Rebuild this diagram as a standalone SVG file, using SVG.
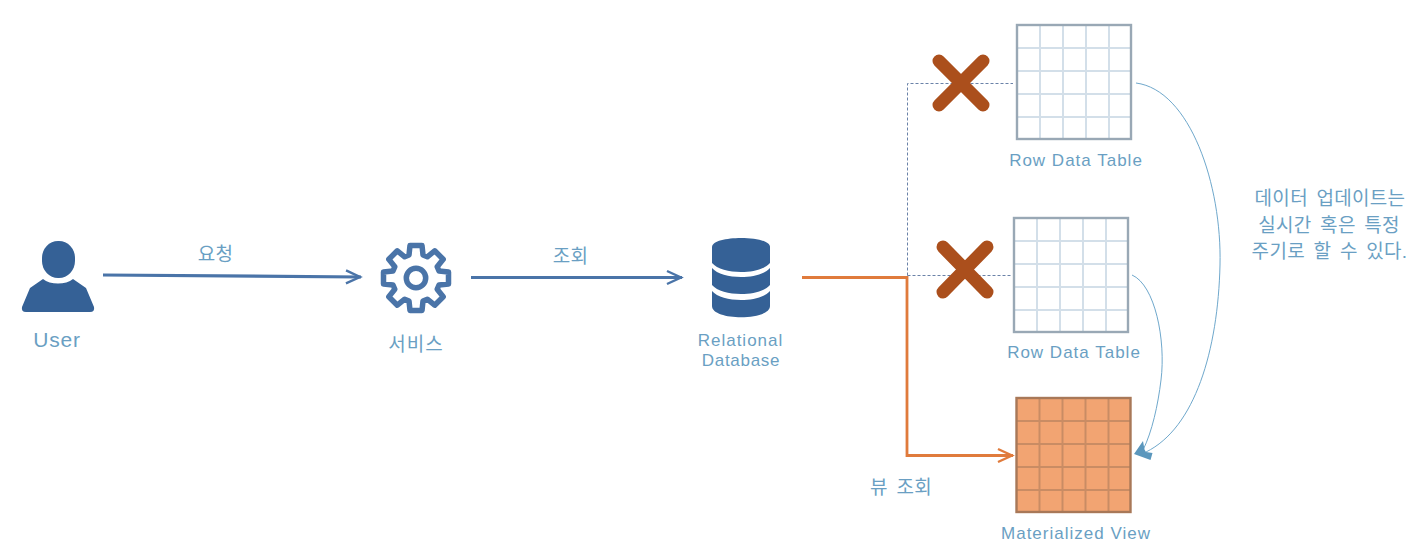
<svg xmlns="http://www.w3.org/2000/svg" width="1417" height="560" viewBox="0 0 1417 560">
<style>
text{font-family:"Liberation Sans","Noto Sans CJK KR",sans-serif;fill:#6a9fc3;text-anchor:middle}
.ko{font-size:19px;letter-spacing:.3px;word-spacing:3px}
.sm{font-size:17px;letter-spacing:1px}
.dark{fill:#356196}
.blue{fill:none;stroke:#4a74a8;stroke-width:3.200}
.org{fill:none;stroke:#e07b3c;stroke-width:2.800}
.dash{fill:none;stroke:#6a82a8;stroke-width:1;stroke-dasharray:3 2}
.thin{fill:none;stroke:#6fa8cc;stroke-width:1}
.x{stroke:#ab4f1c;stroke-width:13;stroke-linecap:round}
.fill{fill:#fff}
.outer{fill:none;stroke:#99a8b5;stroke-width:2.400}
.inner{stroke:#d3dfe9;stroke-width:2;fill:none}
.mfill{fill:#f2a472}
.mo{fill:none;stroke:#a87858;stroke-width:2.400}
.mi{stroke:#c98c64;stroke-width:2;fill:none}
</style>
<defs>
<marker id="ab" markerUnits="userSpaceOnUse" markerWidth="20" markerHeight="18" refX="18" refY="9" orient="auto"><path d="M3 2.500L17 9L3 15.500" fill="none" stroke="#4a74a8" stroke-width="2.400"/></marker>
<marker id="ao" markerUnits="userSpaceOnUse" markerWidth="20" markerHeight="18" refX="18" refY="9" orient="auto"><path d="M3 2.500L17 9L3 15.500" fill="none" stroke="#e07b3c" stroke-width="2.400"/></marker>
<path id="grid" d="M23 0V114M46 0V114M69 0V114M92 0V114M0 23H114M0 46H114M0 69H114M0 92H114"/>
</defs>
<g id="connectors">
<path class="blue" d="M103 275L361 277" marker-end="url(#ab)"/>
<path class="blue" d="M471 277.500H682" marker-end="url(#ab)"/>
<path class="dash" d="M907.500 275.500V83.500H1013"/>
<path class="dash" d="M907.500 275.500H1011"/>
<path class="org" d="M802 277.500H907V455.500H1013" marker-end="url(#ao)"/>
<path class="thin" d="M1136 83C1190 90 1222 185 1220 265C1218 350 1195 428 1146 452"/>
<path class="thin" d="M1132 275C1155 285 1166 340 1161 380C1158 405 1152 432 1143 450"/>
<path d="M1134 454L1143 441L1144.500 449.500L1146 452L1152.500 453L1150.500 460Z" fill="#5b97bd"/>
</g>
<g id="user">
<rect class="dark" x="42" y="241" width="33" height="37" rx="16" ry="17"/>
<path class="dark" d="M43 279C50 285 66 285 73 279L86 288L94 307Q95 312 90 312H26Q21 312 22 307L30 288Z"/>
<text x="57" y="347" style="font-size:21px;letter-spacing:.8px">User</text>
</g>
<g id="service">
<g transform="translate(416 278)">
<path d="M-6 -32.500L6 -32.500L7 -23L11.300 -21.200L18.700 -27.200L27.200 -18.700L21.200 -11.300L23 -7L32.500 -6L32.500 6L23 7L21.200 11.300L27.200 18.700L18.700 27.200L11.300 21.200L7 23L6 32.500L-6 32.500L-7 23L-11.300 21.200L-18.700 27.200L-27.200 18.700L-21.200 11.300L-23 7L-32.500 6L-32.500 -6L-23 -7L-21.200 -11.300L-27.200 -18.700L-18.700 -27.200L-11.300 -21.200L-7 -23Z" fill="none" stroke="#4a74a8" stroke-width="5.500" stroke-linejoin="round"/>
<circle r="9.700" fill="none" stroke="#4a74a8" stroke-width="5.500"/>
</g>
<text class="ko" x="416" y="351" style="letter-spacing:1px">서비스</text>
</g>
<g id="database">
<path class="dark" d="M712 247C712 235 770 235 770 247V263C760 275 722 275 712 263Z"/>
<path class="dark" d="M712 268C722 280 760 280 770 268V285C760 297 722 297 712 285Z"/>
<path class="dark" d="M712 291C722 303 760 303 770 291V306C770 321 712 321 712 306Z"/>
<text class="sm" x="740.500" y="346">Relational</text>
<text class="sm" x="741" y="366" style="letter-spacing:.7px">Database</text>
</g>
<g id="x1"><path class="x" d="M939 61L983 105M983 61L939 105"/></g>
<g id="x2"><path class="x" d="M943 247L987 292M987 247L943 292"/></g>
<g id="table1">
<rect class="fill" x="1017" y="25" width="114" height="114"/>
<use href="#grid" class="inner" x="1017" y="25"/>
<rect class="outer" x="1017" y="25" width="114" height="114"/>
<text class="sm" x="1076" y="166">Row Data Table</text>
</g>
<g id="table2">
<rect class="fill" x="1014" y="218" width="114" height="114"/>
<use href="#grid" class="inner" x="1014" y="218"/>
<rect class="outer" x="1014" y="218" width="114" height="114"/>
<text class="sm" x="1074" y="358">Row Data Table</text>
</g>
<g id="view">
<rect class="mfill" x="1016.500" y="398" width="114" height="114"/>
<use href="#grid" class="mi" x="1016.500" y="398"/>
<rect class="mo" x="1016.500" y="398" width="114" height="114"/>
<text class="sm" x="1076" y="539">Materialized View</text>
</g>
<g id="labels">
<text class="ko" x="215.500" y="261">요청</text>
<text class="ko" x="570.500" y="263">조회</text>
<text class="ko" x="901" y="494">뷰 조회</text>
<text class="ko" x="1330" y="205">데이터 업데이트는</text>
<text class="ko" x="1329" y="232">실시간 혹은 특정</text>
<text class="ko" x="1329.500" y="258">주기로 할 수 있다.</text>
</g>
</svg>
